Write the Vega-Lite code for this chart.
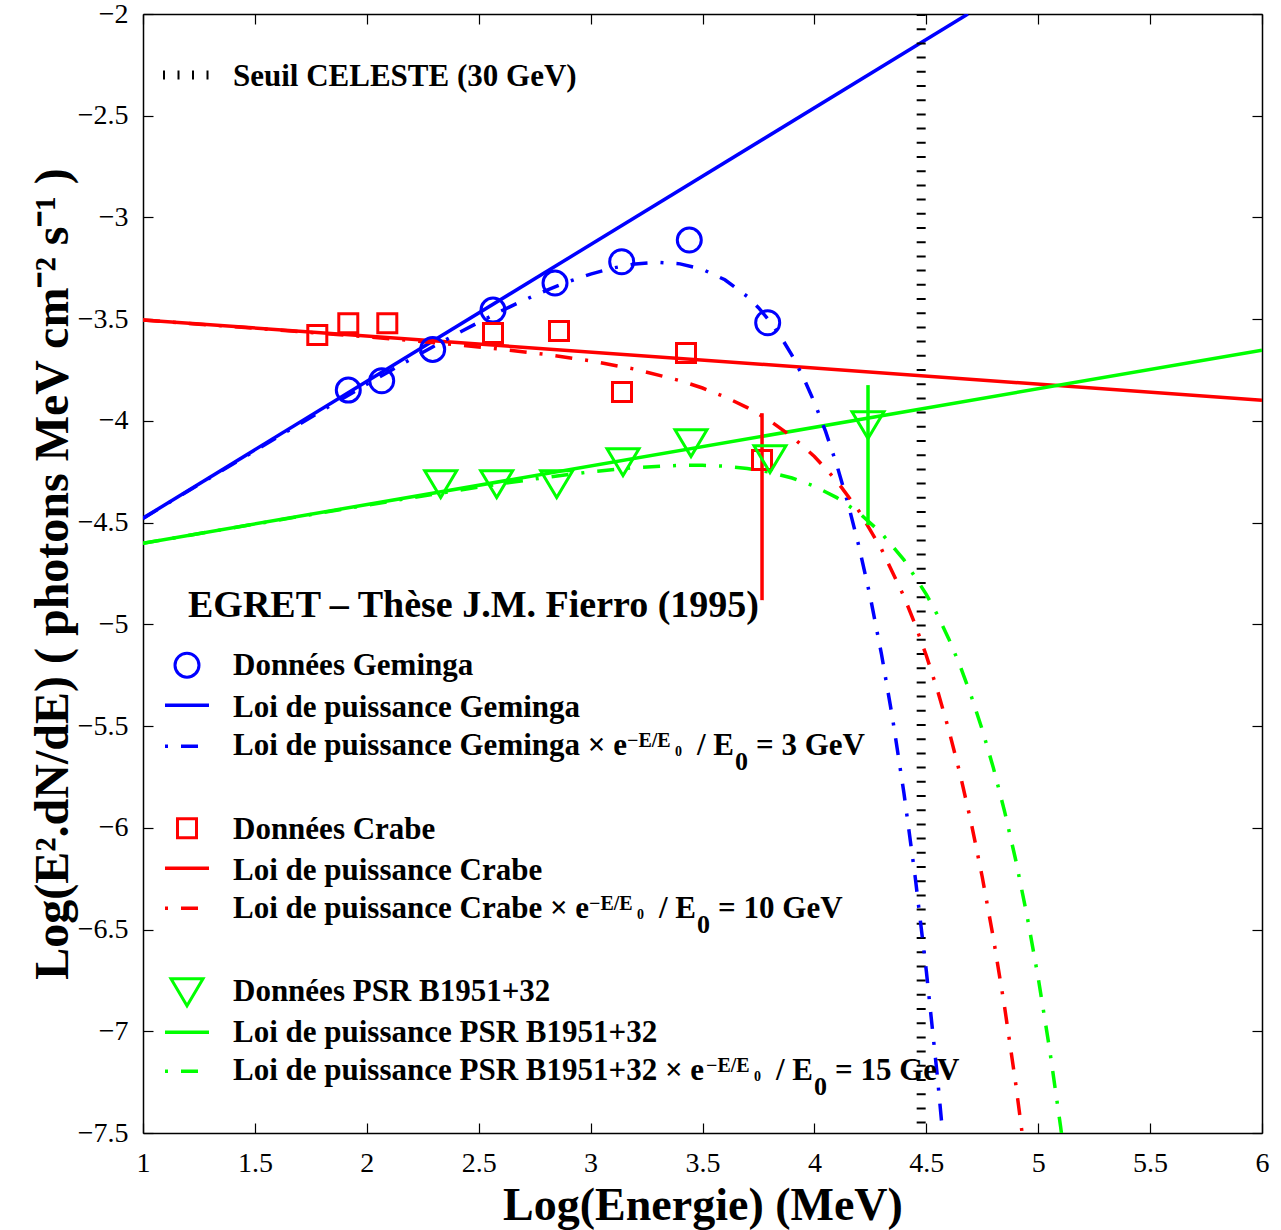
{
  "$schema": "https://vega.github.io/schema/vega-lite/v6.json",
  "width": 1119,
  "height": 1119,
  "autosize": {"type": "none"},
  "padding": {"left": 143, "top": 14, "right": 19, "bottom": 97},
  "background": "white",
  "config": {
    "view": {"stroke": null},
    "font": "Liberation Serif",
    "axis": {
      "grid": false,
      "domainColor": "black",
      "domainWidth": 1.5,
      "tickColor": "black",
      "tickWidth": 1.2,
      "tickSize": -10,
      "labelColor": "black",
      "titleColor": "black",
      "labelFont": "Liberation Serif",
      "titleFont": "Liberation Serif",
      "labelFontSize": 28,
      "labelFontWeight": "normal",
      "titleFontWeight": "bold",
      "titleFontSize": 46,
      "labelFlush": false,
      "labelOverlap": false
    }
  },
  "datasets": {
    "pl": [
      {"s": "gem", "x": 1, "y": -4.478},
      {"s": "gem", "x": 4.686, "y": -2.0},
      {"s": "crab", "x": 1, "y": -3.504},
      {"s": "crab", "x": 6, "y": -3.898},
      {"s": "psr", "x": 1, "y": -4.601},
      {"s": "psr", "x": 6, "y": -3.652}
    ],
    "cut": [
      {"s": "gem", "x": 1.0, "y": -4.4794}, {"s": "gem", "x": 1.2, "y": -4.3458}, {"s": "gem", "x": 1.4, "y": -4.2127},
      {"s": "gem", "x": 1.6, "y": -4.0804}, {"s": "gem", "x": 1.8, "y": -3.9493}, {"s": "gem", "x": 2.0, "y": -3.8202},
      {"s": "gem", "x": 2.1, "y": -3.7567}, {"s": "gem", "x": 2.2, "y": -3.6941}, {"s": "gem", "x": 2.3, "y": -3.6329},
      {"s": "gem", "x": 2.4, "y": -3.5732}, {"s": "gem", "x": 2.5, "y": -3.5154}, {"s": "gem", "x": 2.6, "y": -3.4599},
      {"s": "gem", "x": 2.7, "y": -3.4077}, {"s": "gem", "x": 2.8, "y": -3.3592}, {"s": "gem", "x": 2.9, "y": -3.3156},
      {"s": "gem", "x": 3.0, "y": -3.2782}, {"s": "gem", "x": 3.1, "y": -3.2484}, {"s": "gem", "x": 3.2, "y": -3.2283},
      {"s": "gem", "x": 3.3, "y": -3.2206}, {"s": "gem", "x": 3.4, "y": -3.2281}, {"s": "gem", "x": 3.5, "y": -3.255},
      {"s": "gem", "x": 3.6, "y": -3.3063}, {"s": "gem", "x": 3.7, "y": -3.3884}, {"s": "gem", "x": 3.75, "y": -3.4433},
      {"s": "gem", "x": 3.8, "y": -3.509}, {"s": "gem", "x": 3.85, "y": -3.5868}, {"s": "gem", "x": 3.9, "y": -3.6782},
      {"s": "gem", "x": 3.95, "y": -3.7849}, {"s": "gem", "x": 4.0, "y": -3.9088}, {"s": "gem", "x": 4.05, "y": -4.0518},
      {"s": "gem", "x": 4.1, "y": -4.2164}, {"s": "gem", "x": 4.15, "y": -4.4052}, {"s": "gem", "x": 4.2, "y": -4.621},
      {"s": "gem", "x": 4.25, "y": -4.8673}, {"s": "gem", "x": 4.3, "y": -5.1479}, {"s": "gem", "x": 4.35, "y": -5.4667},
      {"s": "gem", "x": 4.4, "y": -5.8285}, {"s": "gem", "x": 4.45, "y": -6.2386}, {"s": "gem", "x": 4.5, "y": -6.7029},
      {"s": "gem", "x": 4.55, "y": -7.2277}, {"s": "gem", "x": 4.6, "y": -7.8209},
      {"s": "crab", "x": 1.0, "y": -3.5044}, {"s": "crab", "x": 1.4, "y": -3.5366}, {"s": "crab", "x": 1.8, "y": -3.5698},
      {"s": "crab", "x": 2.0, "y": -3.5871}, {"s": "crab", "x": 2.2, "y": -3.6054}, {"s": "crab", "x": 2.4, "y": -3.6252},
      {"s": "crab", "x": 2.6, "y": -3.6474}, {"s": "crab", "x": 2.8, "y": -3.6732}, {"s": "crab", "x": 3.0, "y": -3.705},
      {"s": "crab", "x": 3.2, "y": -3.7462}, {"s": "crab", "x": 3.4, "y": -3.8022}, {"s": "crab", "x": 3.5, "y": -3.8383},
      {"s": "crab", "x": 3.6, "y": -3.8818}, {"s": "crab", "x": 3.7, "y": -3.9345}, {"s": "crab", "x": 3.8, "y": -3.9986},
      {"s": "crab", "x": 3.9, "y": -4.0775}, {"s": "crab", "x": 4.0, "y": -4.1747}, {"s": "crab", "x": 4.1, "y": -4.295},
      {"s": "crab", "x": 4.2, "y": -4.4445}, {"s": "crab", "x": 4.3, "y": -4.6305}, {"s": "crab", "x": 4.4, "y": -4.8628},
      {"s": "crab", "x": 4.45, "y": -4.9999}, {"s": "crab", "x": 4.5, "y": -5.1532}, {"s": "crab", "x": 4.55, "y": -5.3246},
      {"s": "crab", "x": 4.6, "y": -5.5166}, {"s": "crab", "x": 4.65, "y": -5.7315}, {"s": "crab", "x": 4.7, "y": -5.9722},
      {"s": "crab", "x": 4.75, "y": -6.2417}, {"s": "crab", "x": 4.8, "y": -6.5436}, {"s": "crab", "x": 4.85, "y": -6.8819},
      {"s": "crab", "x": 4.9, "y": -7.261}, {"s": "crab", "x": 4.95, "y": -7.6859},
      {"s": "psr", "x": 1.0, "y": -4.6013}, {"s": "psr", "x": 1.4, "y": -4.5258}, {"s": "psr", "x": 1.8, "y": -4.451},
      {"s": "psr", "x": 2.0, "y": -4.4141}, {"s": "psr", "x": 2.2, "y": -4.3778}, {"s": "psr", "x": 2.4, "y": -4.3426},
      {"s": "psr", "x": 2.6, "y": -4.3088}, {"s": "psr", "x": 2.8, "y": -4.2777}, {"s": "psr", "x": 3.0, "y": -4.2504},
      {"s": "psr", "x": 3.2, "y": -4.2293}, {"s": "psr", "x": 3.4, "y": -4.2182}, {"s": "psr", "x": 3.5, "y": -4.2181},
      {"s": "psr", "x": 3.6, "y": -4.2228}, {"s": "psr", "x": 3.7, "y": -4.2336}, {"s": "psr", "x": 3.8, "y": -4.2523},
      {"s": "psr", "x": 3.9, "y": -4.2806}, {"s": "psr", "x": 4.0, "y": -4.3211}, {"s": "psr", "x": 4.1, "y": -4.3771},
      {"s": "psr", "x": 4.2, "y": -4.4525}, {"s": "psr", "x": 4.3, "y": -4.5524}, {"s": "psr", "x": 4.4, "y": -4.683},
      {"s": "psr", "x": 4.5, "y": -4.8523}, {"s": "psr", "x": 4.55, "y": -4.9545}, {"s": "psr", "x": 4.6, "y": -5.0703},
      {"s": "psr", "x": 4.65, "y": -5.2015}, {"s": "psr", "x": 4.7, "y": -5.3498}, {"s": "psr", "x": 4.75, "y": -5.5174},
      {"s": "psr", "x": 4.8, "y": -5.7066}, {"s": "psr", "x": 4.85, "y": -5.92}, {"s": "psr", "x": 4.9, "y": -6.1606},
      {"s": "psr", "x": 4.95, "y": -6.4317}, {"s": "psr", "x": 5.0, "y": -6.7371}, {"s": "psr", "x": 5.05, "y": -7.0809},
      {"s": "psr", "x": 5.1, "y": -7.4678}, {"s": "psr", "x": 5.15, "y": -7.903}
    ],
    "err": [
      {"s": "crab", "x": 3.766, "y": -3.962, "y2": -4.881},
      {"s": "psr", "x": 4.2395, "y": -3.824, "y2": -4.512}
    ],
    "gem": [
      {"x": 1.9173, "y": -3.8486}, {"x": 2.0666, "y": -3.8029}, {"x": 2.2944, "y": -3.6485},
      {"x": 2.5639, "y": -3.4553}, {"x": 2.841, "y": -3.3225}, {"x": 3.1389, "y": -3.2178},
      {"x": 3.441, "y": -3.1111}, {"x": 3.7913, "y": -3.5177}, {"x": 1.1966, "y": -5.2006}
    ],
    "crab": [
      {"x": 1.7788, "y": -3.5782}, {"x": 1.9173, "y": -3.5206}, {"x": 2.0916, "y": -3.5206},
      {"x": 2.5639, "y": -3.5683}, {"x": 2.8588, "y": -3.5585}, {"x": 3.1403, "y": -3.8584},
      {"x": 3.4263, "y": -3.6667}, {"x": 3.7659, "y": -4.1927}, {"x": 1.1966, "y": -6.002}
    ],
    "psr": [
      {"x": 2.3302, "y": -4.3107}, {"x": 2.5804, "y": -4.3107}, {"x": 2.8485, "y": -4.3107},
      {"x": 3.1448, "y": -4.2026}, {"x": 3.4486, "y": -4.1092}, {"x": 3.8016, "y": -4.1878},
      {"x": 4.2395, "y": -4.0206}, {"x": 1.1966, "y": -6.8083}
    ],
    "leg": [
      {"k": "seuil", "s": "none", "x": 1.0894, "x2": 1.2994, "y": -2.2999},
      {"k": "solid", "s": "gem", "x": 1.0983, "x2": 1.2949, "y": -5.3973},
      {"k": "dd", "s": "gem", "x": 1.0983, "x2": 1.2949, "y": -5.5988},
      {"k": "solid", "s": "crab", "x": 1.0983, "x2": 1.2949, "y": -6.1986},
      {"k": "dd", "s": "crab", "x": 1.0983, "x2": 1.2949, "y": -6.3953},
      {"k": "solid", "s": "psr", "x": 1.0983, "x2": 1.2949, "y": -7.0049},
      {"k": "dd", "s": "psr", "x": 1.0983, "x2": 1.2949, "y": -7.1967}
    ],
    "txt": [
      {"role": "main", "x": 1.4021, "y": -2.354, "t": "Seuil CELESTE (30 GeV)"},
      {"role": "main", "x": 1.4021, "y": -5.2498, "t": "Données Geminga"},
      {"role": "main", "x": 1.4021, "y": -5.4562, "t": "Loi de puissance Geminga"},
      {"role": "main", "x": 1.4021, "y": -5.6431, "t": "Loi de puissance Geminga × e"},
      {"role": "main", "x": 3.4754, "y": -5.6431, "t": "/ E"},
      {"role": "main", "x": 3.739, "y": -5.6431, "t": "= 3 GeV"},
      {"role": "main", "x": 1.4021, "y": -6.056, "t": "Données Crabe"},
      {"role": "main", "x": 1.4021, "y": -6.2576, "t": "Loi de puissance Crabe"},
      {"role": "main", "x": 1.4021, "y": -6.4444, "t": "Loi de puissance Crabe × e"},
      {"role": "main", "x": 3.3056, "y": -6.4444, "t": "/ E"},
      {"role": "main", "x": 3.5697, "y": -6.4444, "t": "= 10 GeV"},
      {"role": "main", "x": 1.4021, "y": -6.8525, "t": "Données PSR B1951+32"},
      {"role": "main", "x": 1.4021, "y": -7.0541, "t": "Loi de puissance PSR B1951+32"},
      {"role": "main", "x": 1.4021, "y": -7.2409, "t": "Loi de puissance PSR B1951+32 × e"},
      {"role": "main", "x": 3.8284, "y": -7.2409, "t": "/ E"},
      {"role": "main", "x": 4.092, "y": -7.2409, "t": "= 15 GeV"},
      {"role": "sup", "x": 3.1626, "y": -5.6037, "t": "−E/E"},
      {"role": "sup", "x": 2.9929, "y": -6.4051, "t": "−E/E"},
      {"role": "sup", "x": 3.5156, "y": -7.2016, "t": "−E/E"},
      {"role": "subsub", "x": 3.3771, "y": -5.648, "t": "0"},
      {"role": "subsub", "x": 3.2073, "y": -6.4494, "t": "0"},
      {"role": "subsub", "x": 3.7301, "y": -7.2458, "t": "0"},
      {"role": "sub", "x": 3.6452, "y": -5.7168, "t": "0"},
      {"role": "sub", "x": 3.4754, "y": -6.5182, "t": "0"},
      {"role": "sub", "x": 3.9982, "y": -7.3147, "t": "0"},
      {"role": "title", "x": 1.2011, "y": -4.9646, "t": "EGRET – Thèse J.M. Fierro (1995)"}
    ]
  },
  "resolve": {"axis": {"x": "independent", "y": "independent"}},
  "layer": [
    {
      "layer": [
        {
          "data": {"name": "pl"},
          "mark": {"type": "line", "strokeWidth": 3.5, "clip": true},
          "encoding": {
            "x": {
              "field": "x", "type": "quantitative",
              "scale": {"domain": [1, 6], "nice": false, "zero": false},
              "axis": {
                "values": [1, 1.5, 2, 2.5, 3, 3.5, 4, 4.5, 5, 5.5, 6],
                "format": "~g",
                "title": "Log(Energie) (MeV)",
                "labelFont": "Liberation Serif",
                "titleFont": "Liberation Serif",
                "labelPadding": 26,
                "titlePadding": 6
              }
            },
            "y": {
              "field": "y", "type": "quantitative",
              "scale": {"domain": [-7.5, -2], "nice": false, "zero": false},
              "axis": {
                "values": [-2, -2.5, -3, -3.5, -4, -4.5, -5, -5.5, -6, -6.5, -7, -7.5],
                "format": "~g",
                "title": "Log(E².dN/dE)  ( photons MeV cm⁻² s⁻¹ )",
                "labelFont": "Liberation Serif",
                "titleFont": "Liberation Serif",
                "titleFontSize": 48,
                "labelPadding": 25,
                "titlePadding": 0
              }
            },
            "color": {
              "field": "s", "type": "nominal",
              "scale": {"domain": ["gem", "crab", "psr"], "range": ["#0000ff", "#ff0000", "#00ff00"]},
              "legend": null
            }
          }
        },
        {
          "data": {"values": [{"x": 4.4771}]},
          "mark": {"type": "rule", "color": "black", "strokeWidth": 9, "strokeDash": [2, 12.2]},
          "encoding": {"x": {"field": "x", "type": "quantitative"}}
        },
        {
          "data": {"name": "cut"},
          "mark": {"type": "line", "strokeWidth": 3.5, "strokeDash": [17, 13, 3, 13], "clip": true},
          "encoding": {
            "x": {"field": "x", "type": "quantitative"},
            "y": {"field": "y", "type": "quantitative"},
            "color": {"field": "s", "type": "nominal", "legend": null}
          }
        },
        {
          "data": {"name": "err"},
          "mark": {"type": "rule", "strokeWidth": 3.5},
          "encoding": {
            "x": {"field": "x", "type": "quantitative"},
            "y": {"field": "y", "type": "quantitative"},
            "y2": {"field": "y2"},
            "color": {"field": "s", "type": "nominal", "legend": null}
          }
        },
        {
          "data": {"name": "gem"},
          "mark": {"type": "point", "shape": "circle", "filled": false, "size": 576, "strokeWidth": 3, "color": "#0000ff", "opacity": 1},
          "encoding": {
            "x": {"field": "x", "type": "quantitative"},
            "y": {"field": "y", "type": "quantitative"}
          }
        },
        {
          "data": {"name": "crab"},
          "mark": {"type": "point", "shape": "square", "filled": false, "size": 361, "strokeWidth": 3, "color": "#ff0000", "opacity": 1},
          "encoding": {
            "x": {"field": "x", "type": "quantitative"},
            "y": {"field": "y", "type": "quantitative"}
          }
        },
        {
          "data": {"name": "psr"},
          "mark": {"type": "point", "shape": "M-1,-0.84L1,-0.84L0,0.84Z", "filled": false, "size": 1024, "strokeWidth": 3, "color": "#00ff00", "opacity": 1},
          "encoding": {
            "x": {"field": "x", "type": "quantitative"},
            "y": {"field": "y", "type": "quantitative"}
          }
        },
        {
          "data": {"name": "leg"},
          "transform": [{"filter": "datum.k === 'solid'"}],
          "mark": {"type": "rule", "strokeWidth": 3.5},
          "encoding": {
            "x": {"field": "x", "type": "quantitative"},
            "x2": {"field": "x2"},
            "y": {"field": "y", "type": "quantitative"},
            "color": {"field": "s", "type": "nominal", "legend": null}
          }
        },
        {
          "data": {"name": "leg"},
          "transform": [{"filter": "datum.k === 'dd'"}],
          "mark": {"type": "rule", "strokeWidth": 3.5, "strokeDash": [17, 13, 3, 13], "strokeDashOffset": 30},
          "encoding": {
            "x": {"field": "x", "type": "quantitative"},
            "x2": {"field": "x2"},
            "y": {"field": "y", "type": "quantitative"},
            "color": {"field": "s", "type": "nominal", "legend": null}
          }
        },
        {
          "data": {"name": "leg"},
          "transform": [{"filter": "datum.k === 'seuil'"}],
          "mark": {"type": "rule", "strokeWidth": 9, "strokeDash": [2, 12.5], "color": "black"},
          "encoding": {
            "x": {"field": "x", "type": "quantitative"},
            "x2": {"field": "x2"},
            "y": {"field": "y", "type": "quantitative"}
          }
        },
        {
          "data": {"name": "txt"},
          "transform": [{"filter": "datum.role === 'main'"}],
          "mark": {"type": "text", "align": "left", "baseline": "alphabetic", "font": "Liberation Serif", "fontWeight": "bold", "fontSize": 31, "color": "black"},
          "encoding": {
            "x": {"field": "x", "type": "quantitative"},
            "y": {"field": "y", "type": "quantitative"},
            "text": {"field": "t"}
          }
        },
        {
          "data": {"name": "txt"},
          "transform": [{"filter": "datum.role === 'sup'"}],
          "mark": {"type": "text", "align": "left", "baseline": "alphabetic", "font": "Liberation Serif", "fontWeight": "bold", "fontSize": 20, "color": "black"},
          "encoding": {
            "x": {"field": "x", "type": "quantitative"},
            "y": {"field": "y", "type": "quantitative"},
            "text": {"field": "t"}
          }
        },
        {
          "data": {"name": "txt"},
          "transform": [{"filter": "datum.role === 'subsub'"}],
          "mark": {"type": "text", "align": "left", "baseline": "alphabetic", "font": "Liberation Serif", "fontWeight": "bold", "fontSize": 14, "color": "black"},
          "encoding": {
            "x": {"field": "x", "type": "quantitative"},
            "y": {"field": "y", "type": "quantitative"},
            "text": {"field": "t"}
          }
        },
        {
          "data": {"name": "txt"},
          "transform": [{"filter": "datum.role === 'sub'"}],
          "mark": {"type": "text", "align": "left", "baseline": "alphabetic", "font": "Liberation Serif", "fontWeight": "bold", "fontSize": 26, "color": "black"},
          "encoding": {
            "x": {"field": "x", "type": "quantitative"},
            "y": {"field": "y", "type": "quantitative"},
            "text": {"field": "t"}
          }
        },
        {
          "data": {"name": "txt"},
          "transform": [{"filter": "datum.role === 'title'"}],
          "mark": {"type": "text", "align": "left", "baseline": "alphabetic", "font": "Liberation Serif", "fontWeight": "bold", "fontSize": 38, "color": "black"},
          "encoding": {
            "x": {"field": "x", "type": "quantitative"},
            "y": {"field": "y", "type": "quantitative"},
            "text": {"field": "t"}
          }
        }
      ]
    },
    {
      "data": {"values": [{"x": 1, "y": -2}]},
      "mark": {"type": "point", "opacity": 0},
      "encoding": {
        "x": {
          "field": "x", "type": "quantitative",
          "axis": {"orient": "top", "labels": false, "title": null, "values": [1, 1.5, 2, 2.5, 3, 3.5, 4, 4.5, 5, 5.5, 6]}
        },
        "y": {
          "field": "y", "type": "quantitative",
          "axis": {"orient": "right", "labels": false, "title": null, "values": [-2, -2.5, -3, -3.5, -4, -4.5, -5, -5.5, -6, -6.5, -7, -7.5]}
        }
      }
    }
  ]
}
